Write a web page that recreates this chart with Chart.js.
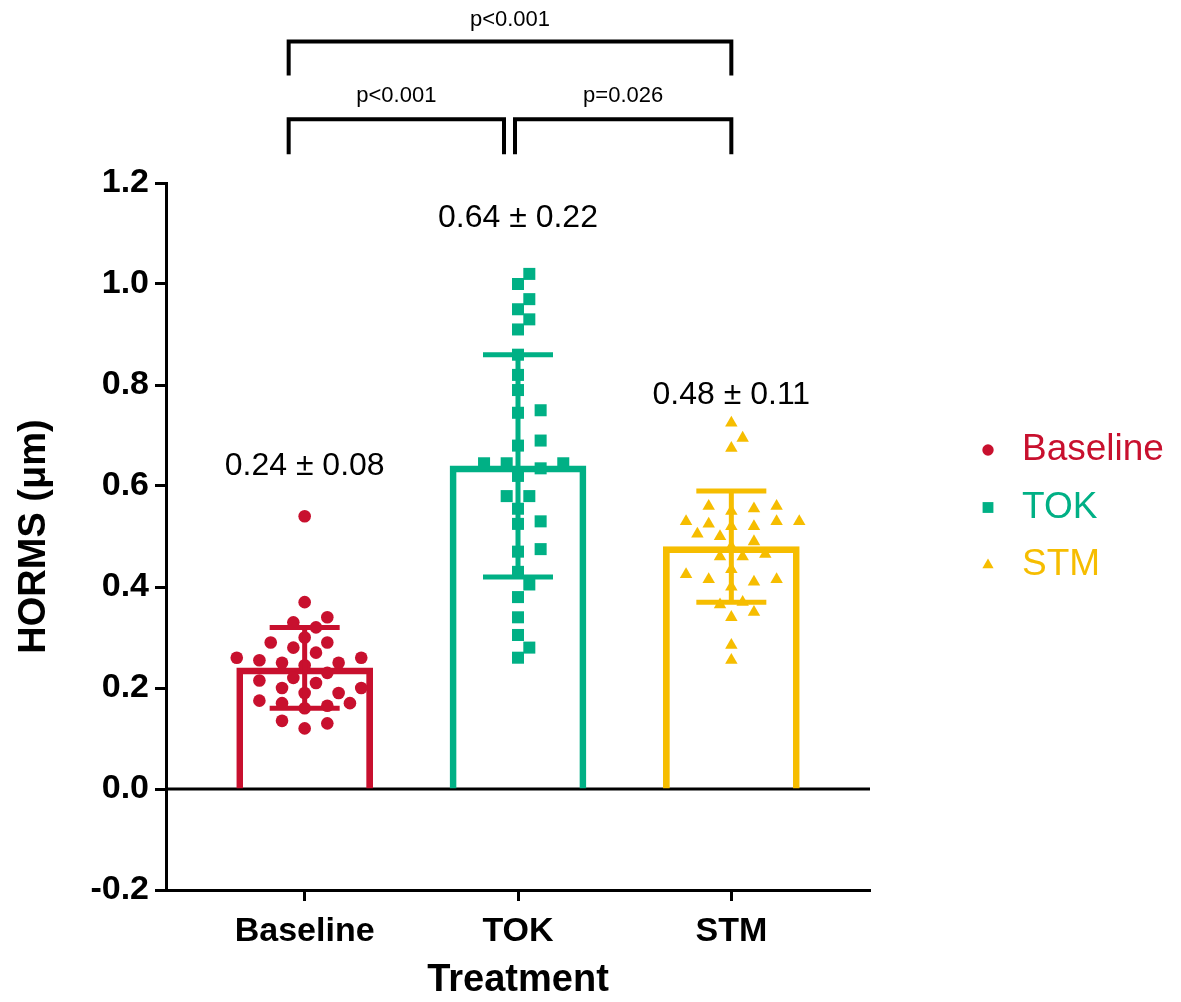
<!DOCTYPE html>
<html>
<head>
<meta charset="utf-8">
<script src="https://cdn.jsdelivr.net/npm/chart.js@4.4.0/dist/chart.umd.min.js"></script>
<style>
    html, body { margin: 0; padding: 0; background: #fff; }
</style>
</head>
<body>
<canvas id="hormsChart" width="1181" height="1002"></canvas>
<script>
// ---- data ----
const categories = ['Baseline', 'TOK', 'STM'];
const means = [0.24, 0.64, 0.48];
const sds = [0.08, 0.22, 0.11];
const baselineValues = [0.54, 0.37, 0.33, 0.34, 0.32, 0.29, 0.29, 0.28, 0.30, 0.26, 0.26, 0.27, 0.255, 0.25, 0.25, 0.245,
    0.23, 0.22, 0.215, 0.19, 0.19, 0.20, 0.21, 0.20, 0.175, 0.165, 0.17, 0.17, 0.16, 0.135, 0.13, 0.12];
const tokValues = [1.02, 1.00, 0.97, 0.95, 0.93, 0.91, 0.86, 0.82, 0.79, 0.75, 0.745, 0.69, 0.68, 0.645, 0.645, 0.635,
    0.645, 0.62, 0.58, 0.58, 0.555, 0.525, 0.53, 0.47, 0.475, 0.43, 0.405, 0.38, 0.34, 0.305, 0.28, 0.26];
const stmValues = [0.725, 0.695, 0.675, 0.56, 0.55, 0.56, 0.555, 0.53, 0.52, 0.52, 0.53, 0.525, 0.53, 0.505, 0.49, 0.50,
    0.48, 0.46, 0.465, 0.46, 0.435, 0.415, 0.41, 0.425, 0.415, 0.40, 0.37, 0.365, 0.34, 0.35, 0.285, 0.255];
const yTicks = [-0.2, 0.0, 0.2, 0.4, 0.6, 0.8, 1.0, 1.2];
const comparisons = [[0, 1], [1, 2], [0, 2]];
const pLabels = ['p<0.001', 'p=0.026', 'p<0.001'];

// ---- styles ----
const colors = ['#C8102E', '#00B085', '#F6BD00'];
const pointStyles = ['circle', 'rect', 'triangle'];
const pointSizes = [6.3, 8.5, 7.2];
const FAMILY = '"Liberation Sans", Arial, sans-serif';

// simple beeswarm so points do not overlap (works in pixel space, roughly)
var pxPerX = 213, pxPerY = 505, stepPx = 11.3, minDist = 15;
function swarm(values, center) {
    var placed = [];
    values.slice().sort(function (a, b) { return a - b; }).forEach(function (v) {
        for (var k = 0; k < 30; k++) {
            var off = (k === 0 ? 0 : (k % 2 ? 1 : -1) * Math.ceil(k / 2)) * stepPx;
            var ok = placed.every(function (p) {
                var dx = off - p.off, dy = (v - p.y) * pxPerY;
                return Math.sqrt(dx * dx + dy * dy) >= minDist;
            });
            if (ok) { placed.push({ off: off, y: v }); break; }
        }
    });
    return placed.map(function (p) { return { x: center + p.off / pxPerX, y: p.y }; });
}

const groups = [baselineValues, tokValues, stmValues];

const barDataset = {
    type: 'bar',
    label: 'mean',
    data: categories.map(function (c, i) { return { x: i, y: means[i] }; }),
    backgroundColor: 'rgba(255,255,255,0)',
    borderColor: colors,
    borderWidth: 6,
    barThickness: 136,
    order: 2
};

const pointDatasets = groups.map(function (vals, i) {
    return {
        type: 'scatter',
        label: categories[i],
        data: swarm(vals, i),
        pointStyle: pointStyles[i],
        pointRadius: pointSizes[i],
        backgroundColor: colors[i],
        borderColor: colors[i],
        borderWidth: 0,
        order: 1
    };
});

// zero line, error bars, mean labels, brackets and legend
const extras = {
    id: 'extras',
    beforeDatasetsDraw: function (chart) {
        var ctx = chart.ctx, a = chart.chartArea, y0 = chart.scales.y.getPixelForValue(0);
        ctx.save();
        ctx.strokeStyle = '#000';
        ctx.lineWidth = 3;
        ctx.beginPath();
        ctx.moveTo(a.left, y0);
        ctx.lineTo(a.right, y0);
        ctx.stroke();
        ctx.restore();
    },
    afterDatasetsDraw: function (chart) {
        var ctx = chart.ctx, xs = chart.scales.x, ys = chart.scales.y;
        ctx.save();
        // error bars (mean +/- SD)
        categories.forEach(function (c, i) {
            var x = xs.getPixelForValue(i);
            var yt = ys.getPixelForValue(means[i] + sds[i]);
            var yb = ys.getPixelForValue(means[i] - sds[i]);
            ctx.strokeStyle = colors[i];
            ctx.lineWidth = 5;
            ctx.beginPath();
            ctx.moveTo(x, yt); ctx.lineTo(x, yb);
            ctx.moveTo(x - 35, yt); ctx.lineTo(x + 35, yt);
            ctx.moveTo(x - 35, yb); ctx.lineTo(x + 35, yb);
            ctx.stroke();
        });
        // mean +/- SD labels
        var labelAt = [0.64, 1.13, 0.78];
        ctx.fillStyle = '#000';
        ctx.font = '32px ' + FAMILY;
        ctx.textAlign = 'center';
        ctx.textBaseline = 'middle';
        categories.forEach(function (c, i) {
            ctx.fillText(means[i].toFixed(2) + ' \u00b1 ' + sds[i].toFixed(2), xs.getPixelForValue(i), ys.getPixelForValue(labelAt[i]));
        });
        ctx.restore();
    },
    afterDraw: function (chart) {
        var ctx = chart.ctx, xs = chart.scales.x, ys = chart.scales.y;
        ctx.save();
        // significance brackets: [top, foot, text] in y units, end offsets in px
        var levels = [[1.326, 1.257, 1.372], [1.326, 1.257, 1.372], [1.48, 1.413, 1.522]];
        var ends = [[-16, -14], [-3, 0], [-16, 0]];
        ctx.strokeStyle = '#000';
        ctx.lineWidth = 4;
        ctx.lineJoin = 'miter';
        ctx.fillStyle = '#000';
        ctx.font = '22px ' + FAMILY;
        ctx.textAlign = 'center';
        ctx.textBaseline = 'middle';
        comparisons.forEach(function (pair, k) {
            var x1 = xs.getPixelForValue(pair[0]) + ends[k][0];
            var x2 = xs.getPixelForValue(pair[1]) + ends[k][1];
            var yt = ys.getPixelForValue(levels[k][0]);
            var yf = ys.getPixelForValue(levels[k][1]);
            ctx.beginPath();
            ctx.moveTo(x1, yf); ctx.lineTo(x1, yt); ctx.lineTo(x2, yt); ctx.lineTo(x2, yf);
            ctx.stroke();
            ctx.fillText(pLabels[k], (x1 + x2) / 2, ys.getPixelForValue(levels[k][2]));
        });
        // legend
        ctx.font = '37px ' + FAMILY;
        ctx.textAlign = 'left';
        categories.forEach(function (c, i) {
            var y = 450 + i * 57.5;
            ctx.fillStyle = colors[i];
            ctx.strokeStyle = colors[i];
            Chart.helpers.drawPoint(ctx, { pointStyle: pointStyles[i], radius: pointSizes[i] * 0.9, rotation: 0, borderWidth: 0 }, 988, y);
            ctx.fillText(c, 1022, y);
        });
        ctx.restore();
    }
};

const boldTick = { family: FAMILY, size: 34, weight: 'bold' };
const boldTitle = { family: FAMILY, size: 38, weight: 'bold', lineHeight: 1 };

new Chart(document.getElementById('hormsChart'), {
    type: 'scatter',
    data: { datasets: [barDataset].concat(pointDatasets) },
    options: {
        responsive: false,
        animation: false,
        devicePixelRatio: 1,
        layout: { padding: { top: 183, right: 311, bottom: 0, left: 0 } },
        plugins: {
            legend: { display: false },
            tooltip: { enabled: false }
        },
        scales: {
            x: {
                type: 'linear',
                min: -0.65,
                max: 2.65,
                offset: false,
                afterBuildTicks: function (s) { s.ticks = categories.map(function (c, i) { return { value: i }; }); },
                afterFit: function (s) { s.height = 112; },
                ticks: {
                    callback: function (v) { return categories[v]; },
                    color: '#000',
                    font: boldTick,
                    padding: 10,
                    autoSkip: false,
                    maxRotation: 0
                },
                grid: { offset: false, drawOnChartArea: false, tickLength: 11, tickWidth: 3, color: '#000' },
                border: { width: 3, color: '#000' },
                title: { display: true, text: 'Treatment', color: '#000', font: boldTitle, padding: { top: 0, bottom: 2 } }
            },
            y: {
                type: 'linear',
                min: -0.2,
                max: 1.2,
                afterBuildTicks: function (s) { s.ticks = yTicks.map(function (v) { return { value: v }; }); },
                afterFit: function (s) { s.width = 166; },
                ticks: {
                    callback: function (v) { return v.toFixed(1); },
                    color: '#000',
                    font: boldTick,
                    padding: 6
                },
                grid: { drawOnChartArea: false, tickLength: 11, tickWidth: 3, color: '#000' },
                border: { width: 3, color: '#000' },
                title: { display: true, text: 'HORMS (\u03bcm)', color: '#000', font: boldTitle, padding: { top: 16, bottom: 0 } }
            }
        }
    },
    plugins: [extras]
});
</script>
</body>
</html>
